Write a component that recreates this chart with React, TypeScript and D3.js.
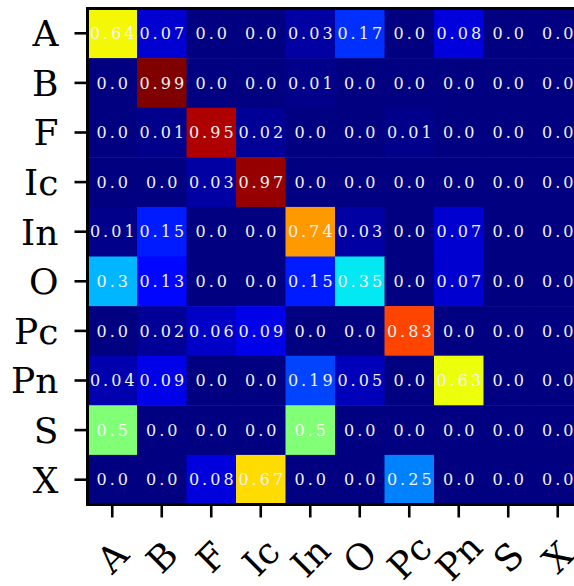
import React from "react";
import * as d3 from "d3";

const labels = ["A", "B", "F", "Ic", "In", "O", "Pc", "Pn", "S", "X"];

const rowA = [0.64, 0.07, 0.0, 0.0, 0.03, 0.17, 0.0, 0.08, 0.0, 0.0];
const rowB = [0.0, 0.99, 0.0, 0.0, 0.01, 0.0, 0.0, 0.0, 0.0, 0.0];
const rowF = [0.0, 0.01, 0.95, 0.02, 0.0, 0.0, 0.01, 0.0, 0.0, 0.0];
const rowIc = [0.0, 0.0, 0.03, 0.97, 0.0, 0.0, 0.0, 0.0, 0.0, 0.0];
const rowIn = [0.01, 0.15, 0.0, 0.0, 0.74, 0.03, 0.0, 0.07, 0.0, 0.0];
const rowO = [0.3, 0.13, 0.0, 0.0, 0.15, 0.35, 0.0, 0.07, 0.0, 0.0];
const rowPc = [0.0, 0.02, 0.06, 0.09, 0.0, 0.0, 0.83, 0.0, 0.0, 0.0];
const rowPn = [0.04, 0.09, 0.0, 0.0, 0.19, 0.05, 0.0, 0.63, 0.0, 0.0];
const rowS = [0.5, 0.0, 0.0, 0.0, 0.5, 0.0, 0.0, 0.0, 0.0, 0.0];
const rowX = [0.0, 0.0, 0.08, 0.67, 0.0, 0.0, 0.25, 0.0, 0.0, 0.0];

const matrix = [rowA, rowB, rowF, rowIc, rowIn, rowO, rowPc, rowPn, rowS, rowX];

// matplotlib "jet" colormap segments
const seg = (pts: number[][]) =>
  d3.scaleLinear().domain(pts.map((p) => p[0])).range(pts.map((p) => p[1])).clamp(true);
const jetR = seg([[0, 0], [0.35, 0], [0.66, 1], [0.89, 1], [1, 0.5]]);
const jetG = seg([[0, 0], [0.125, 0], [0.375, 1], [0.64, 1], [0.91, 0], [1, 0]]);
const jetB = seg([[0, 0.5], [0.11, 1], [0.34, 1], [0.65, 0], [1, 0]]);
const jet = (t: number) =>
  d3.rgb(jetR(t) * 255, jetG(t) * 255, jetB(t) * 255).formatHex();

const fmt = (v: number) => {
  const r = Math.round(v * 100);
  return r % 10 === 0 ? v.toFixed(1) : v.toFixed(2);
};

export default function App() {
  const W = 574;
  const H = 586;
  const left = 87.5;
  const top = 8.5;
  const cw = 49.5;
  const ch = 49.6;
  const x = d3.scaleBand<string>().domain(labels).range([left, left + cw * labels.length]);
  const y = d3.scaleBand<string>().domain(labels).range([top, top + ch * labels.length]);
  const vmin = d3.min(matrix.flat()) as number;
  const vmax = d3.max(matrix.flat()) as number;
  const norm = d3.scaleLinear().domain([vmin, vmax]).range([0, 1]);
  const bottom = top + ch * labels.length;
  const right = left + cw * labels.length;
  const tickLen = 13;
  const ls = 3;

  return (
    <svg
      width={W}
      height={H}
      style={{ position: "absolute", left: 0, top: 0, background: "white" }}
    >
      {matrix.map((row, i) =>
        row.map((v, j) => (
          <rect
            key={`c${i}-${j}`}
            x={x(labels[j])}
            y={y(labels[i])}
            width={x.bandwidth() + 0.5}
            height={y.bandwidth() + 0.5}
            fill={jet(norm(v))}
          />
        ))
      )}
      {matrix.map((row, i) =>
        row.map((v, j) => (
          <text
            key={`t${i}-${j}`}
            x={(x(labels[j]) as number) + x.bandwidth() / 2 + ls / 2}
            y={(y(labels[i]) as number) + y.bandwidth() / 2}
            dy="0.36em"
            textAnchor="middle"
            fontFamily="DejaVu Serif"
            fontSize={16}
            letterSpacing={ls}
            fill="#f2f2f2"
          >
            {fmt(v)}
          </text>
        ))
      )}
      {/* spines */}
      <g stroke="black" strokeWidth={3} fill="none">
        <line x1={left} x2={left} y1={top - 1.5} y2={bottom + 1.5} />
        <line x1={left - 1.5} x2={right + 1.5} y1={top} y2={top} />
        <line x1={left - 1.5} x2={right + 1.5} y1={bottom} y2={bottom} />
        <line x1={right} x2={right} y1={top - 1.5} y2={bottom + 1.5} />
      </g>
      {/* y ticks and labels */}
      {labels.map((l) => {
        const cy = (y(l) as number) + y.bandwidth() / 2;
        return (
          <g key={`y${l}`}>
            <line x1={left - tickLen} x2={left} y1={cy} y2={cy} stroke="black" strokeWidth={2.6} />
            <text
              x={58.5}
              y={cy}
              dy="0.36em"
              textAnchor="end"
              fontFamily="DejaVu Serif"
              fontSize={36}
              fill="black"
            >
              {l}
            </text>
          </g>
        );
      })}
      {/* x ticks and labels */}
      {labels.map((l) => {
        const cx = (x(l) as number) + x.bandwidth() / 2;
        return (
          <g key={`x${l}`}>
            <line x1={cx} x2={cx} y1={bottom} y2={bottom + tickLen} stroke="black" strokeWidth={2.6} />
            <text
              transform={`translate(${cx},557) rotate(-45)`}
              dy="0.36em"
              textAnchor="middle"
              fontFamily="DejaVu Serif"
              fontSize={36}
              fill="black"
            >
              {l}
            </text>
          </g>
        );
      })}
    </svg>
  );
}
